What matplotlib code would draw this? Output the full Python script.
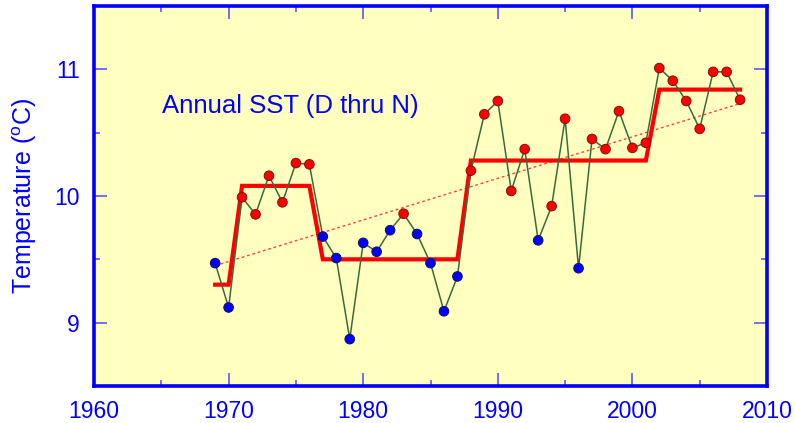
import numpy as np
import matplotlib
matplotlib.use('Agg')
import matplotlib.pyplot as plt
from matplotlib.ticker import MultipleLocator

plt.rcParams['font.family'] = ['Liberation Sans', 'DejaVu Sans']
plt.rcParams['mathtext.fontset'] = 'custom'
plt.rcParams['mathtext.rm'] = 'Liberation Sans'

# annual SST, Dec thru Nov
years = list(range(1969, 2009))
sst = [9.47, 9.12, 9.99, 9.855, 10.16, 9.95, 10.26, 10.25, 9.68, 9.51,
       8.87, 9.63, 9.56, 9.73, 9.86, 9.70, 9.47, 9.09, 9.365, 10.20,
       10.645, 10.75, 10.04, 10.37, 9.65, 9.92, 10.61, 9.43, 10.45, 10.37,
       10.67, 10.38, 10.42, 11.01, 10.91, 10.75, 10.53, 10.98, 10.98, 10.76]

# regime shifts (start, end, mean)
regime_start = [1969, 1971, 1977, 1988, 2002]
regime_end = [1970, 1976, 1987, 2001, 2008]
regime_mean = [9.30, 10.08, 9.50, 10.28, 10.84]

# linear trend end points
trend_years = [1969, 2008]
trend_vals = [9.45, 10.73]

blue = '#0000ff'

fig = plt.figure(figsize=(7.95, 4.23), dpi=100)
ax = fig.add_axes([94/795, 1-386/423, 673/795, 380/423])
ax.set_facecolor('#ffffc0')

ax.plot(trend_years, trend_vals, color='#ff4040', lw=1.0, ls=(0, (2, 2)), zorder=2)

sx, sy = [], []
for s, e, m in zip(regime_start, regime_end, regime_mean):
    sx += [s, e]
    sy += [m, m]
ax.plot(sx, sy, color='#ff0000', lw=3.0, zorder=3, solid_joinstyle='miter')

ax.plot(years, sst, color='#3a6a3a', lw=1.1, zorder=4)
cols = ['#ff0000' if t > 9.8 else '#0000ff' for t in sst]
edges = ['#801010' if t > 9.8 else '#101060' for t in sst]
ax.scatter(years, sst, s=48, c=cols, edgecolors=edges, linewidths=0.7, zorder=5)

ax.set_xlim(1960, 2010)
ax.set_ylim(8.5, 11.5)
ax.xaxis.set_major_locator(MultipleLocator(10))
ax.xaxis.set_minor_locator(MultipleLocator(5))
ax.yaxis.set_major_locator(MultipleLocator(1))
ax.yaxis.set_minor_locator(MultipleLocator(0.5))

for sp in ax.spines.values():
    sp.set_color(blue)
    sp.set_linewidth(2.6)

ax.tick_params(which='both', direction='in', top=True, right=True,
               color='#4a4aff', width=1.1, labelcolor=blue, labelsize=16.5, pad=10)
ax.tick_params(which='major', length=9.5)
ax.tick_params(which='minor', length=4.5)

ax.set_ylabel(r'Temperature ($^{\rm o}$C)', color=blue, fontsize=18)
ax.yaxis.set_label_coords(-0.082, 0.5)

ax.text(0.101, 0.718, 'Annual SST (D thru N)', transform=ax.transAxes,
        color=blue, fontsize=18.5, va='baseline', ha='left')

fig.savefig('out.png', dpi=100)
